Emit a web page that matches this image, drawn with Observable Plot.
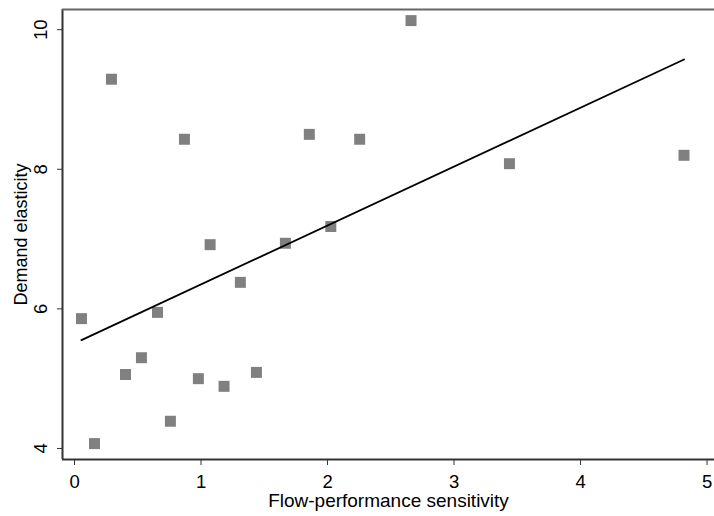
<!DOCTYPE html>
<html>
<head>
<meta charset="utf-8">
<script src="https://cdn.jsdelivr.net/npm/d3@7"></script>
<script src="https://cdn.jsdelivr.net/npm/@observablehq/plot@0.6"></script>
<style>
  html, body { margin: 0; padding: 0; background: #fff; }
  #chart svg { display: block; }
</style>
</head>
<body>
<div id="chart"></div>
<script>
// Flow-performance sensitivity (x) and demand elasticity (y)
const sensitivity = [0.055, 0.158, 0.292, 0.403, 0.529, 0.656, 0.758, 0.869, 0.979, 1.072,
                     1.182, 1.311, 1.438, 1.667, 1.856, 2.026, 2.254, 2.660, 3.438, 4.818];
const elasticity  = [5.86, 4.07, 9.29, 5.06, 5.30, 5.95, 4.39, 8.43, 5.00, 6.92,
                     4.89, 6.38, 5.09, 6.94, 8.50, 7.18, 8.43, 10.13, 8.08, 8.20];
// Fitted line end points
const fitX = [0.055, 4.818];
const fitY = [5.552, 9.573];

const xTicks = [0, 1, 2, 3, 4, 5];
const yTicks = [4, 6, 8, 10];
const xTitle = "Flow-performance sensitivity";
const yTitle = "Demand elasticity";

const points = sensitivity.map((x, i) => ({x, y: elasticity[i]}));
const fit = fitX.map((x, i) => ({x, y: fitY[i]}));

const xDomain = [-0.095, 5.059];
const yDomain = [3.842, 10.289];
const font = "Liberation Sans, Arial, Helvetica, sans-serif";
const fs = 18.5;

const chart = Plot.plot({
  width: 714,
  height: 516,
  marginLeft: 62,
  marginRight: 0,
  marginTop: 9,
  marginBottom: 57,
  style: {fontFamily: font, fontSize: fs + "px", color: "#000", background: "#fff"},
  x: {domain: xDomain, label: null},
  y: {domain: yDomain, label: null},
  marks: [
    Plot.axisX({ticks: xTicks, tickSize: 6, tickPadding: 9, label: null, stroke: "#333", tickFormat: d => String(d), fontSize: fs}),
    Plot.axisY({ticks: yTicks, tickSize: 5, tickPadding: 11, tickRotate: -90, label: null, stroke: "#333", tickFormat: d => String(d), fontSize: fs}),
    Plot.ruleX([xDomain[0]], {stroke: "#333", strokeWidth: 2}),
    Plot.ruleY([yDomain[0]], {stroke: "#333", strokeWidth: 2}),
    Plot.ruleY([yDomain[1]], {stroke: "#666", strokeWidth: 2}),
    Plot.dot(points, {x: "x", y: "y", symbol: "square", r: 6.2, fill: "#808080", stroke: "none"}),
    Plot.line(fit, {x: "x", y: "y", stroke: "#000", strokeWidth: 1.8}),
    Plot.text([xTitle], {frameAnchor: "bottom", dy: 41, lineAnchor: "middle", textAnchor: "middle", text: d => d, fontSize: 19, fill: "#000"}),
    Plot.text([yTitle], {frameAnchor: "left", dx: -41, rotate: -90, lineAnchor: "middle", textAnchor: "middle", text: d => d, fontSize: 18, fill: "#000"})
  ]
});
document.getElementById("chart").appendChild(chart);
</script>
</body>
</html>
